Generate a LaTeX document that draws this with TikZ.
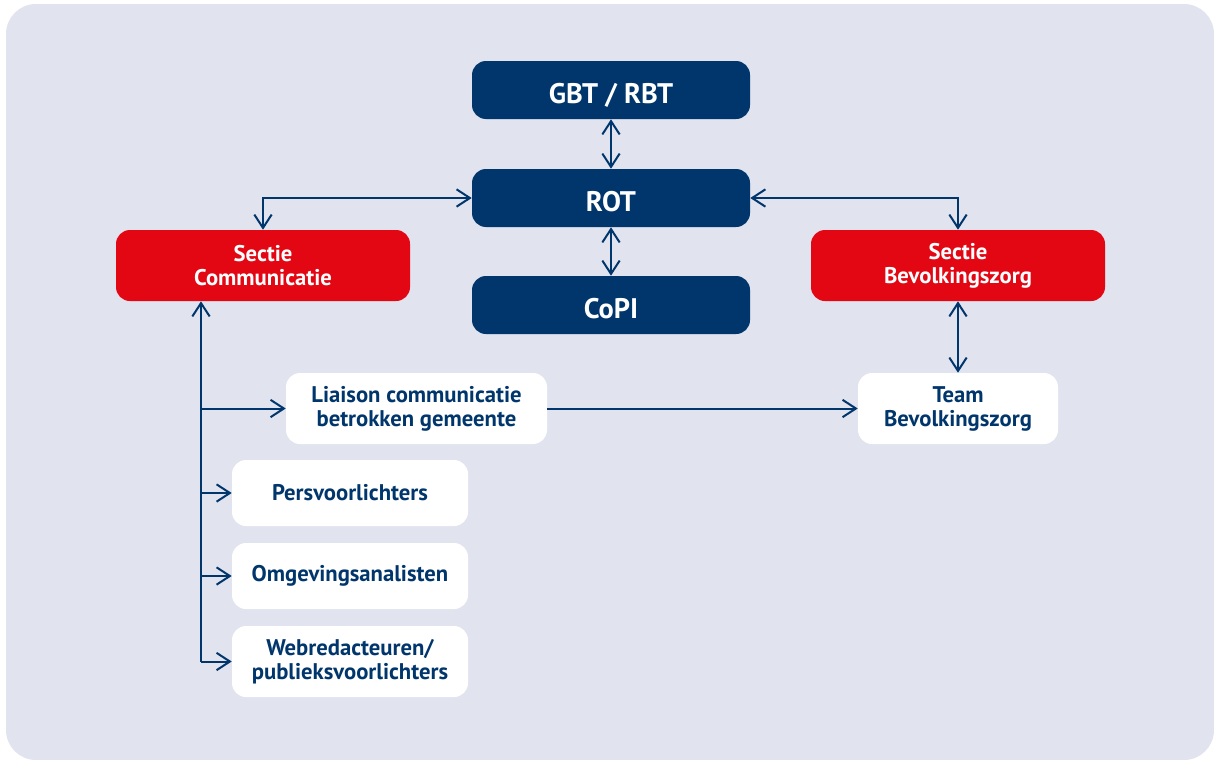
\documentclass[tikz,border=0pt]{standalone}
\usepackage{fontspec}
\setmainfont{PT Sans}
\usepackage{tikz}
\usetikzlibrary{arrows.meta}
\definecolor{crisisblue}{RGB}{0,54,107}
\definecolor{crisisred}{RGB}{227,6,19}
\definecolor{panelgrey}{RGB}{225,227,239}
\tikzset{
  unitbox/.style={rounded corners=10.5pt, inner sep=0pt, align=center, font=\bfseries\fontsize{17}{18}\selectfont},
  topbox/.style={unitbox, fill=crisisblue, text=white, minimum width=208.5pt, minimum height=43.5pt, text height=19.5pt, text depth=0pt, font=\bfseries\fontsize{21.25}{22}\selectfont},
  secbox/.style={unitbox, fill=crisisred, text=white, minimum width=220.5pt, minimum height=53.25pt},
  teambox/.style={unitbox, fill=white, text=crisisblue},
  link/.style={draw=crisisblue, line width=1.5pt, arrows={[length=10pt, width=13pt, line width=1.5pt]}},
}
\begin{document}
\begin{tikzpicture}[x=0.75pt,y=0.75pt,yscale=-1,xscale=1]
\useasboundingbox (0,0) rectangle (1214,760);
%Background panel
\fill [panelgrey, rounded corners=22.5pt] (6,4) rectangle (1214,760);

% Top column
\node [topbox] (gbt) at (611,90) {GBT / RBT};
\node [topbox] (rot) at (611,198) {ROT};
\node [topbox] (copi) at (611,305) {CoPI};

% Sections
\node [secbox] (seccom) at (263,265.5) {Sectie\\Communicatie};
\node [secbox] (secbev) at (958,265.5) {Sectie\\Bevolkingszorg};

% Teams
\node [teambox, minimum width=195.75pt, minimum height=53.25pt] (liaison) at (416.5,408.5) {Liaison communicatie\\betrokken gemeente};
\node [teambox, minimum width=150pt, minimum height=53.25pt] (teambev) at (958,408.5) {Team\\Bevolkingszorg};
\node [teambox, minimum width=177pt, minimum height=49.5pt] (pers) at (350,493) {Persvoorlichters};
\node [teambox, minimum width=177pt, minimum height=49.5pt] (omg) at (350,576) {Omgevingsanalisten};
\node [teambox, minimum width=177pt, minimum height=53.25pt] (web) at (350,661.5) {Webredacteuren/\\publieksvoorlichters};

\coordinate (trunk) at (201,0);

% Connectors
\draw [link, {Straight Barb}-{Straight Barb}] (gbt) -- (rot);
\draw [link, {Straight Barb}-{Straight Barb}] (rot) -- (copi);
\draw [link, {Straight Barb}-{Straight Barb}] (rot.west) -| (seccom.north);
\draw [link, {Straight Barb}-{Straight Barb}] (rot.east) -| (secbev.north);
\draw [link, {Straight Barb}-{Straight Barb}] (secbev) -- (teambev);
\draw [link, -{Straight Barb}] (liaison.east) -- (teambev.west);
\draw [link, {Straight Barb}-] (seccom.south -| trunk) -- (trunk |- web.west);
\draw [link, -{Straight Barb}] (trunk |- liaison.west) -- (liaison.west);
\draw [link, -{Straight Barb}] (trunk |- pers.west) -- (pers.west);
\draw [link, -{Straight Barb}] (trunk |- omg.west) -- (omg.west);
\draw [link, -{Straight Barb}] (trunk |- web.west) -- (web.west);

\end{tikzpicture}
\end{document}
